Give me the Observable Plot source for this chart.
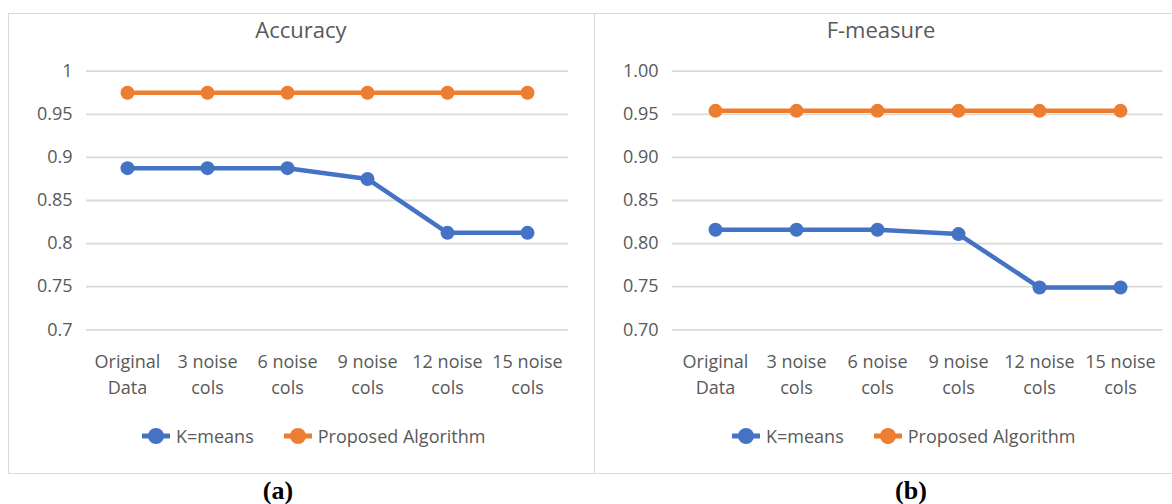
<!DOCTYPE html>
<html><head><meta charset="utf-8">
<script src="https://cdn.jsdelivr.net/npm/d3@7"></script>
<script src="https://cdn.jsdelivr.net/npm/@observablehq/plot@0.6"></script>
<style>
body{margin:0;background:#fff;width:1172px;height:504px;overflow:hidden;position:relative;font-family:"Open Sans",sans-serif;color:#595959;}
.box{position:absolute;top:13px;height:461px;border:1px solid #D9D9D9;box-sizing:border-box;}
.chart{position:absolute;top:13px;}
.title{position:absolute;font-size:22px;line-height:22px;white-space:nowrap;transform:translateX(-50%);}
.legend{position:absolute;display:flex;align-items:center;height:24px;font-size:18px;line-height:24px;white-space:nowrap;}
.legend .item{display:flex;align-items:center;margin-right:30px;}
.legend svg{margin-right:6px;}
.tag{position:absolute;font-family:"Liberation Serif",serif;font-weight:bold;font-size:26px;line-height:26px;color:#000;transform:translateX(-50%);}
</style></head><body>
<div class="box" style="left:8px;width:587px"></div>
<div class="box" style="left:594px;width:600px"></div>
<div id="c1" class="chart" style="left:8px"></div>
<div id="c2" class="chart" style="left:594px"></div>
<div class="title" style="left:301px;top:18px">Accuracy</div>
<div class="title" style="left:881px;top:18px">F-measure</div>
<div id="l1" class="legend" style="left:142px;top:424px"></div>
<div id="l2" class="legend" style="left:732px;top:424px"></div>
<div class="tag" style="left:278px;top:478px">(a)</div>
<div class="tag" style="left:911px;top:478px">(b)</div>
<script>
const categories = ["Original\nData", "3 noise\ncols", "6 noise\ncols", "9 noise\ncols", "12 noise\ncols", "15 noise\ncols"];
const seriesNames = ["K=means", "Proposed Algorithm"];
const seriesColors = ["#4472C4", "#ED7D31"];
const kmeansAccuracy = [0.8875, 0.8875, 0.8875, 0.875, 0.8125, 0.8125];
const proposedAccuracy = [0.975, 0.975, 0.975, 0.975, 0.975, 0.975];
const kmeansFmeasure = [0.816, 0.816, 0.816, 0.811, 0.749, 0.749];
const proposedFmeasure = [0.954, 0.954, 0.954, 0.954, 0.954, 0.954];
const yTicks = [0.7, 0.75, 0.8, 0.85, 0.9, 0.95, 1];

function makeChart(kv, pv, fmt, w, mr) {
  const data = [
    ...categories.map((c, i) => ({cat: c, v: kv[i], s: seriesNames[0]})),
    ...categories.map((c, i) => ({cat: c, v: pv[i], s: seriesNames[1]}))
  ];
  return Plot.plot({
    width: w, height: 460,
    marginLeft: 78, marginRight: mr, marginTop: 57.7, marginBottom: 143.7,
    style: {fontFamily: "Open Sans", fontSize: "18px", color: "#595959", background: "transparent", overflow: "visible"},
    x: {type: "point", domain: categories, padding: 0.5, label: null},
    y: {domain: [0.7, 1], label: null},
    color: {domain: seriesNames, range: seriesColors},
    marks: [
      Plot.ruleY(yTicks, {stroke: "#D9D9D9", strokeWidth: 1.8}),
      Plot.axisY({ticks: yTicks, tickSize: 0, tickPadding: 14, tickFormat: fmt, fill: "#595959", fontSize: 18, label: null}),
      Plot.axisX({tickSize: 0, tickPadding: 19, lineHeight: 1.48, fill: "#595959", fontSize: 18, label: null}),
      Plot.line(data, {x: "cat", y: "v", stroke: "s", z: "s", strokeWidth: 4.5}),
      Plot.dot(data, {x: "cat", y: "v", fill: "s", r: 7})
    ]
  });
}

document.getElementById("c1").append(makeChart(kmeansAccuracy, proposedAccuracy, d => String(d), 586, 26));
document.getElementById("c2").append(makeChart(kmeansFmeasure, proposedFmeasure, d3.format(".2f"), 578, 9.7));

for (const id of ["l1", "l2"]) {
  const el = document.getElementById(id);
  seriesNames.forEach((n, i) => {
    const item = document.createElement("div");
    item.className = "item";
    item.innerHTML = `<svg width="28" height="20"><line x1="0" x2="28" y1="10" y2="10" stroke="${seriesColors[i]}" stroke-width="5"/><circle cx="14" cy="10" r="8" fill="${seriesColors[i]}"/></svg><span>${n}</span>`;
    el.append(item);
  });
}
</script>
</body></html>
